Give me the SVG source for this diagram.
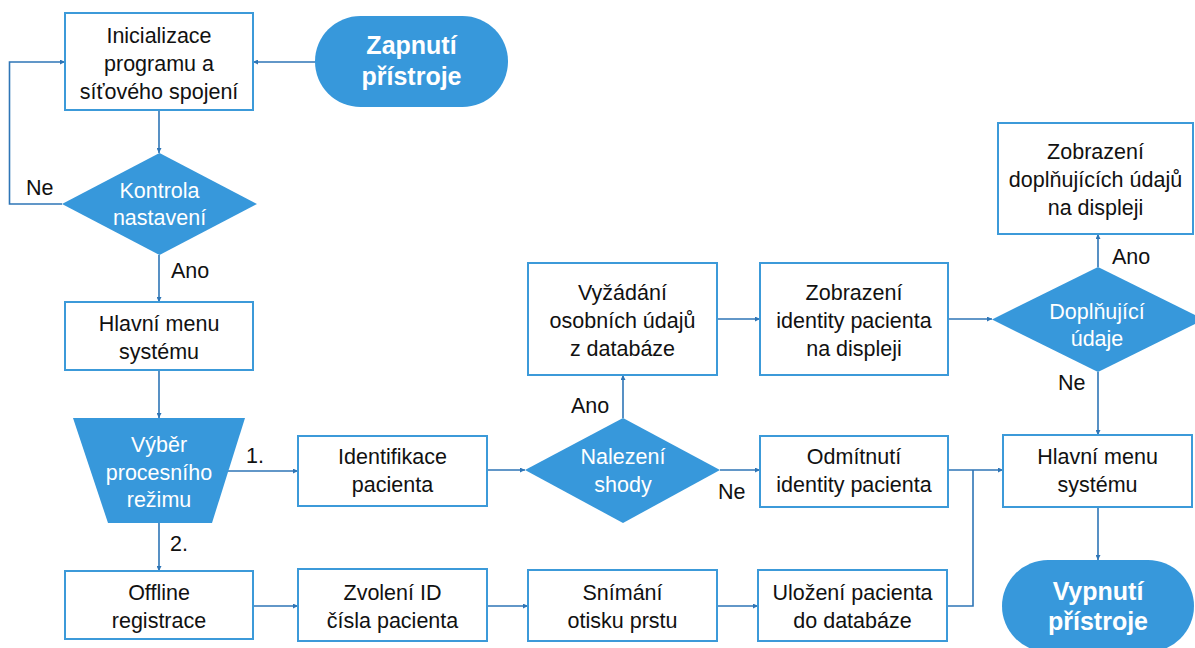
<svg xmlns="http://www.w3.org/2000/svg" width="1195" height="648" viewBox="0 0 1195 648">
  <style>
    .box { fill: #ffffff; stroke: #3c9ad9; stroke-width: 2; }
    .shape { fill: #3798db; stroke: none; }
    .t { font-family: "Liberation Sans", Arial, sans-serif; font-size: 21.5px; fill: #111111; text-anchor: middle; }
    .tw { font-family: "Liberation Sans", Arial, sans-serif; font-size: 21.5px; fill: #ffffff; text-anchor: middle; }
    .tb { font-family: "Liberation Sans", Arial, sans-serif; font-size: 25px; font-weight: bold; fill: #ffffff; text-anchor: middle; }
    .lbl { font-family: "Liberation Sans", Arial, sans-serif; font-size: 21.5px; fill: #111111; }
    .edge { fill: none; stroke: #2e75b6; stroke-width: 1.6; }
  </style>
  <defs>
    <marker id="arrow" viewBox="0 0 8 8" refX="8" refY="4" markerWidth="5" markerHeight="5" orient="auto" markerUnits="userSpaceOnUse">
      <path d="M0,0 L8,4 L0,8 z" fill="#2e75b6"/>
    </marker>
  </defs>

  <rect width="1195" height="648" fill="#ffffff"/>

  <!-- connectors -->
  <g id="connectors">
    <path class="edge" d="M315,62 H253" marker-end="url(#arrow)"/>
    <path class="edge" d="M159,110 V153" marker-end="url(#arrow)"/>
    <path class="edge" d="M62,204 H9.5 V62 H65" marker-end="url(#arrow)"/>
    <path class="edge" d="M159,255 V302" marker-end="url(#arrow)"/>
    <path class="edge" d="M159,370 V418" marker-end="url(#arrow)"/>
    <path class="edge" d="M228,471 H298" marker-end="url(#arrow)"/>
    <path class="edge" d="M159,523 V571" marker-end="url(#arrow)"/>
    <path class="edge" d="M253,606 H298" marker-end="url(#arrow)"/>
    <path class="edge" d="M487,606 H528" marker-end="url(#arrow)"/>
    <path class="edge" d="M717,606 H758" marker-end="url(#arrow)"/>
    <path class="edge" d="M947,606 H973 V470"/>
    <path class="edge" d="M487,470 H525" marker-end="url(#arrow)"/>
    <path class="edge" d="M623,418 V375" marker-end="url(#arrow)"/>
    <path class="edge" d="M720,470 H760" marker-end="url(#arrow)"/>
    <path class="edge" d="M948,470 H1003" marker-end="url(#arrow)"/>
    <path class="edge" d="M717,319 H760" marker-end="url(#arrow)"/>
    <path class="edge" d="M948,319 H992" marker-end="url(#arrow)"/>
    <path class="edge" d="M1098,267 V234" marker-end="url(#arrow)"/>
    <path class="edge" d="M1098,372 V435" marker-end="url(#arrow)"/>
    <path class="edge" d="M1098,507 V560" marker-end="url(#arrow)"/>
  </g>

  <!-- edge labels -->
  <g id="labels">
    <text class="lbl" x="26" y="195">Ne</text>
    <text class="lbl" x="171" y="278">Ano</text>
    <text class="lbl" x="246" y="463">1.</text>
    <text class="lbl" x="170" y="551">2.</text>
    <text class="lbl" x="571" y="413">Ano</text>
    <text class="lbl" x="718" y="499">Ne</text>
    <text class="lbl" x="1112" y="264">Ano</text>
    <text class="lbl" x="1058" y="390">Ne</text>
  </g>

  <g id="zapnuti">
    <rect class="shape" x="315" y="16" width="193" height="91" rx="45.5"/>
    <text class="tb" x="411.5" y="54">Zapnutí</text>
    <text class="tb" x="411.5" y="85">přístroje</text>
  </g>

  <g id="inicializace">
    <rect class="box" x="65" y="13" width="188" height="97"/>
    <text class="t" x="159" y="43">Inicializace</text>
    <text class="t" x="159" y="71">programu a</text>
    <text class="t" x="159" y="99">síťového spojení</text>
  </g>

  <g id="kontrola">
    <polygon class="shape" points="159.5,153 257,204 159.5,255 62,204"/>
    <text class="tw" x="159.5" y="198">Kontrola</text>
    <text class="tw" x="159.5" y="225">nastavení</text>
  </g>

  <g id="hlavni-menu-1">
    <rect class="box" x="65" y="302" width="188" height="68"/>
    <text class="t" x="159" y="331">Hlavní menu</text>
    <text class="t" x="159" y="359">systému</text>
  </g>

  <g id="vyber">
    <polygon class="shape" points="73,418 245,418 212,523 108,523"/>
    <text class="tw" x="159" y="452">Výběr</text>
    <text class="tw" x="159" y="480">procesního</text>
    <text class="tw" x="159" y="507">režimu</text>
  </g>

  <g id="identifikace">
    <rect class="box" x="298" y="436" width="189" height="70"/>
    <text class="t" x="392.5" y="464">Identifikace</text>
    <text class="t" x="392.5" y="492">pacienta</text>
  </g>

  <g id="offline">
    <rect class="box" x="65" y="571" width="188" height="68"/>
    <text class="t" x="159" y="600">Offline</text>
    <text class="t" x="159" y="628">registrace</text>
  </g>

  <g id="zvoleni">
    <rect class="box" x="298" y="569" width="189" height="72"/>
    <text class="t" x="392.5" y="600">Zvolení ID</text>
    <text class="t" x="392.5" y="628">čísla pacienta</text>
  </g>

  <g id="snimani">
    <rect class="box" x="528" y="570" width="189" height="71"/>
    <text class="t" x="622.5" y="600">Snímání</text>
    <text class="t" x="622.5" y="628">otisku prstu</text>
  </g>

  <g id="ulozeni">
    <rect class="box" x="758" y="570" width="189" height="71"/>
    <text class="t" x="852.5" y="600">Uložení pacienta</text>
    <text class="t" x="852.5" y="628">do databáze</text>
  </g>

  <g id="nalezeni">
    <polygon class="shape" points="623,418 720,470 623,523 525,470"/>
    <text class="tw" x="623" y="464">Nalezení</text>
    <text class="tw" x="623" y="492">shody</text>
  </g>

  <g id="vyzadani">
    <rect class="box" x="528" y="263" width="189" height="112"/>
    <text class="t" x="622.5" y="300">Vyžádání</text>
    <text class="t" x="622.5" y="328">osobních údajů</text>
    <text class="t" x="622.5" y="356">z databáze</text>
  </g>

  <g id="zobrazeni-identity">
    <rect class="box" x="760" y="263" width="188" height="112"/>
    <text class="t" x="854" y="300">Zobrazení</text>
    <text class="t" x="854" y="328">identity pacienta</text>
    <text class="t" x="854" y="356">na displeji</text>
  </g>

  <g id="odmitnuti">
    <rect class="box" x="760" y="436" width="188" height="71"/>
    <text class="t" x="854" y="464">Odmítnutí</text>
    <text class="t" x="854" y="492">identity pacienta</text>
  </g>

  <g id="doplnujici">
    <polygon class="shape" points="1098,267 1204,319.5 1098,372 992,319.5"/>
    <text class="tw" x="1097" y="319">Doplňující</text>
    <text class="tw" x="1097" y="346">údaje</text>
  </g>

  <g id="zobrazeni-doplnujicich">
    <rect class="box" x="998" y="123" width="195" height="111"/>
    <text class="t" x="1095.5" y="159">Zobrazení</text>
    <text class="t" x="1095.5" y="187">doplňujících údajů</text>
    <text class="t" x="1095.5" y="215">na displeji</text>
  </g>

  <g id="hlavni-menu-2">
    <rect class="box" x="1003" y="435" width="189" height="72"/>
    <text class="t" x="1097.5" y="464">Hlavní menu</text>
    <text class="t" x="1097.5" y="492">systému</text>
  </g>

  <g id="vypnuti">
    <rect class="shape" x="1002" y="560" width="192" height="92" rx="46"/>
    <text class="tb" x="1098" y="600">Vypnutí</text>
    <text class="tb" x="1098" y="630">přístroje</text>
  </g>
</svg>
